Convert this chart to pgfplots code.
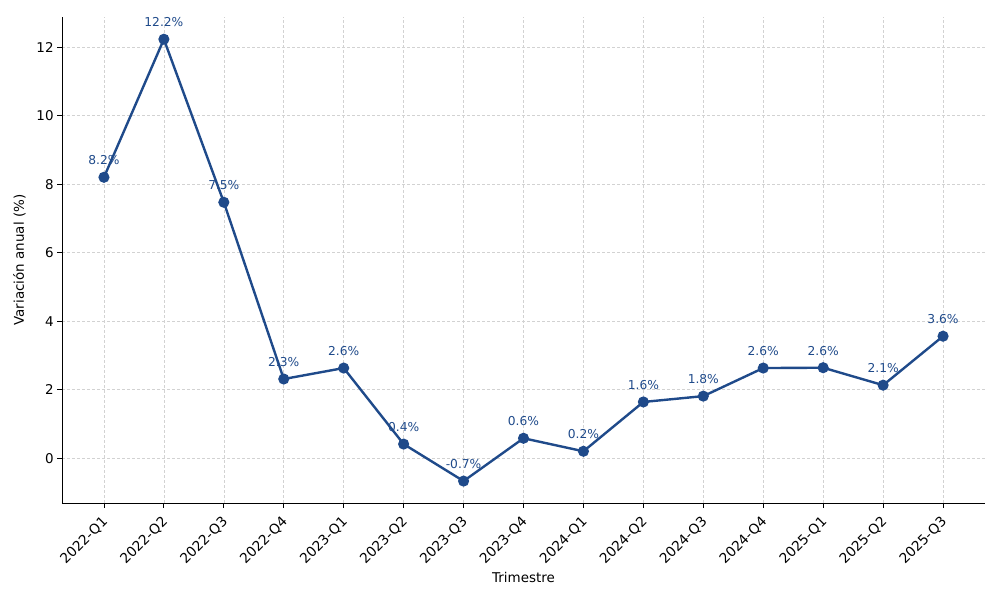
\documentclass[border=0pt]{standalone}
\usepackage{fontspec}
\setmainfont{DejaVu Sans}
\usepackage{pgfplots}
\pgfplotsset{compat=1.18}
\definecolor{serie}{HTML}{1F4A8A}
\definecolor{gridc}{HTML}{D2D2D2}
\begin{document}
\begin{tikzpicture}[x=1bp,y=1bp]
\path[use as bounding box] (-62,-97) rectangle (938,503);
\begin{axis}[
  at={(0,0)}, anchor=south west,
  scale only axis, width=923bp, height=486bp,
  xmin=-0.70, xmax=14.70, ymin=-1.31, ymax=12.88,
  axis x line*=bottom, axis y line*=left,
  axis line style={line width=0.9bp},
  tick align=outside, major tick length=4.9bp,
  tick style={line width=0.9bp, black},
  xtick={0,...,14},
  xticklabels={2022-Q1,2022-Q2,2022-Q3,2022-Q4,2023-Q1,2023-Q2,2023-Q3,2023-Q4,2024-Q1,2024-Q2,2024-Q3,2024-Q4,2025-Q1,2025-Q2,2025-Q3},
  ytick={0,2,4,6,8,10,12},
  xticklabel style={rotate=45, anchor=north east, font=\fontsize{13.8}{15}\selectfont, inner sep=2bp, xshift=-5bp, yshift=-1bp},
  yticklabel style={font=\fontsize{13.5}{15}\selectfont},
  /pgf/number format/assume math mode=true,
  grid=major,
  major grid style={gridc, line width=0.6bp, dash pattern=on 3bp off 2bp},
  xlabel={Trimestre}, ylabel={Variación anual (\%)},
  xlabel style={font=\fontsize{13.5}{15}\selectfont, yshift=0bp},
  ylabel style={font=\fontsize{13.5}{15}\selectfont, yshift=4bp},
  clip=false,
]
\addplot[serie, line width=2.4bp, mark=*, mark size=4.3bp, mark options={fill=serie, draw=serie},
  nodes near coords={\pgfplotspointmeta},
  point meta=explicit symbolic,
  every node near coord/.append style={font=\fontsize{12.3}{14}\selectfont, text=serie, anchor=south, yshift=8bp}]
  table[meta=m] {
x y m
0 8.20 8.2\%
1 12.23 12.2\%
2 7.47 7.5\%
3 2.31 2.3\%
4 2.63 2.6\%
5 0.41 0.4\%
6 -0.67 -0.7\%
7 0.58 0.6\%
8 0.20 0.2\%
9 1.64 1.6\%
10 1.81 1.8\%
11 2.63 2.6\%
12 2.64 2.6\%
13 2.13 2.1\%
14 3.56 3.6\%
};
\end{axis}
\end{tikzpicture}
\end{document}
